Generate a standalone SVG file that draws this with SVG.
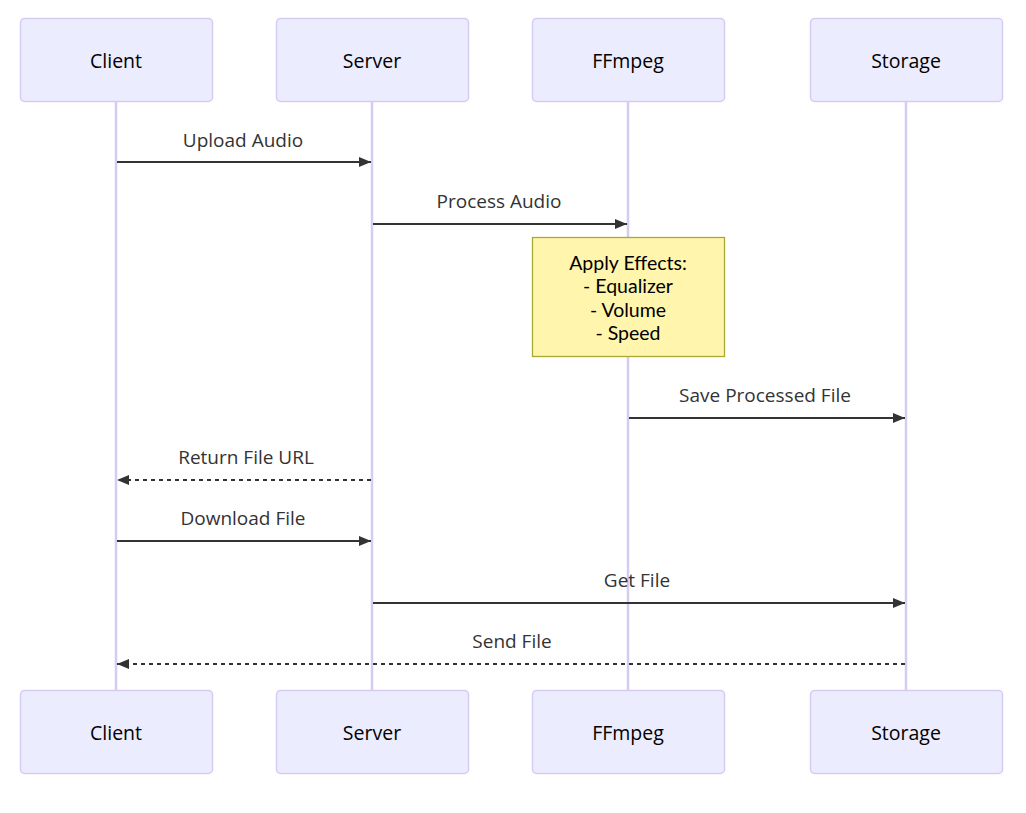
<svg xmlns="http://www.w3.org/2000/svg" width="1026" height="813" viewBox="0 0 1026 813">
<style>
.actor{fill:#ECECFF;stroke:#D6CCF3;stroke-width:1.5}
.alabel{font-family:"Open Sans","Noto Sans",sans-serif;font-size:19.5px;fill:#000;text-anchor:middle;dominant-baseline:central}
.life{stroke:#D6CCF3;stroke-width:2.5}
.msg{stroke:#333;stroke-width:2;fill:none}
.dash{stroke-dasharray:4,4}
.mlabel{font-family:"Open Sans","Noto Sans",sans-serif;font-size:19px;fill:#333;text-anchor:middle}
.note{fill:#FFF5AD;stroke:#AAAA33;stroke-width:1.3}
.ntext{font-family:Lato,"Open Sans",sans-serif;font-size:19.5px;fill:#000;text-anchor:middle;dominant-baseline:central}
</style>
<defs>
<marker id="arrow" viewBox="0 0 12 10" refX="12" refY="5" markerWidth="12" markerHeight="10" markerUnits="userSpaceOnUse" orient="auto">
<path d="M0,0 L12,5 L0,10 z" fill="#333"/>
</marker>
</defs>
<rect width="1026" height="813" fill="#fff"/>
<g id="lifelines">
<line class="life" x1="116" y1="101" x2="116" y2="690"/>
<line class="life" x1="372" y1="101" x2="372" y2="690"/>
<line class="life" x1="628" y1="101" x2="628" y2="690"/>
<line class="life" x1="906" y1="101" x2="906" y2="690"/>
</g>
<g id="actor-client-top"><rect class="actor" x="20.5" y="18.5" width="192" height="83" rx="4"/><text class="alabel" x="116" y="60">Client</text></g>
<g id="actor-server-top"><rect class="actor" x="276.5" y="18.5" width="192" height="83" rx="4"/><text class="alabel" x="372" y="60">Server</text></g>
<g id="actor-ffmpeg-top"><rect class="actor" x="532.5" y="18.5" width="192" height="83" rx="4"/><text class="alabel" x="628" y="60">FFmpeg</text></g>
<g id="actor-storage-top"><rect class="actor" x="810.5" y="18.5" width="192" height="83" rx="4"/><text class="alabel" x="906" y="60">Storage</text></g>
<g id="actor-client-bottom"><rect class="actor" x="20.5" y="690.5" width="192" height="83" rx="4"/><text class="alabel" x="116" y="732">Client</text></g>
<g id="actor-server-bottom"><rect class="actor" x="276.5" y="690.5" width="192" height="83" rx="4"/><text class="alabel" x="372" y="732">Server</text></g>
<g id="actor-ffmpeg-bottom"><rect class="actor" x="532.5" y="690.5" width="192" height="83" rx="4"/><text class="alabel" x="628" y="732">FFmpeg</text></g>
<g id="actor-storage-bottom"><rect class="actor" x="810.5" y="690.5" width="192" height="83" rx="4"/><text class="alabel" x="906" y="732">Storage</text></g>
<g id="note-effects">
<rect class="note" x="532.5" y="237.5" width="192" height="119"/>
<text class="ntext" x="628" y="262">Apply Effects:</text>
<text class="ntext" x="628" y="285.5">- Equalizer</text>
<text class="ntext" x="628" y="309">- Volume</text>
<text class="ntext" x="628" y="332.5">- Speed</text>
</g>
<g id="connectors">
<line class="msg" x1="117" y1="162" x2="371" y2="162" marker-end="url(#arrow)"/>
<text class="mlabel" x="243" y="147">Upload Audio</text>
<line class="msg" x1="373" y1="224" x2="627" y2="224" marker-end="url(#arrow)"/>
<text class="mlabel" x="499" y="208">Process Audio</text>
<line class="msg" x1="629" y1="418" x2="905" y2="418" marker-end="url(#arrow)"/>
<text class="mlabel" x="765" y="402">Save Processed File</text>
<line class="msg dash" x1="371" y1="480" x2="117" y2="480" marker-end="url(#arrow)"/>
<text class="mlabel" x="246" y="464">Return File URL</text>
<line class="msg" x1="117" y1="541" x2="371" y2="541" marker-end="url(#arrow)"/>
<text class="mlabel" x="243" y="525">Download File</text>
<line class="msg" x1="373" y1="603" x2="905" y2="603" marker-end="url(#arrow)"/>
<text class="mlabel" x="637" y="587">Get File</text>
<line class="msg dash" x1="905" y1="664" x2="117" y2="664" marker-end="url(#arrow)"/>
<text class="mlabel" x="512" y="648">Send File</text>
</g>
</svg>
